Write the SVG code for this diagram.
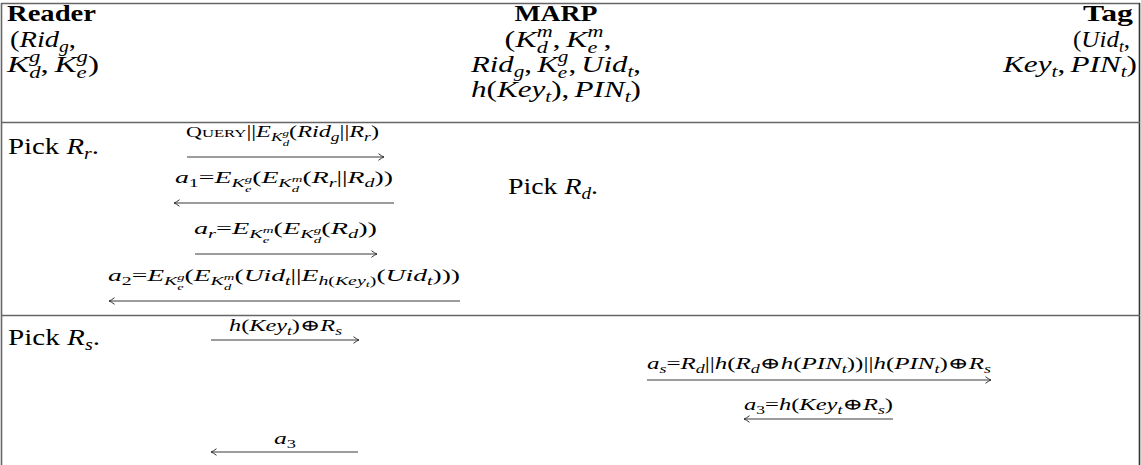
<svg xmlns="http://www.w3.org/2000/svg" width="1141" height="465" viewBox="0 0 1141 465">
<style>
text{font-family:"Liberation Serif","DejaVu Serif",serif;fill:#000}
.m{font-size:24px}
.b{font-weight:bold}
.i{font-style:italic}
.ms{font-size:16.5px}
.l{font-size:16px}
.s1{font-size:11.5px}
.s2{font-size:8.5px}
.rule{stroke:#666;stroke-width:1.6;fill:none}
.arr{stroke:#3a3a3a;stroke-width:1.1;fill:none;marker-end:url(#ah)}
</style>
<defs>
<marker id="ah" viewBox="-7 -5 8 10" refX="0" refY="0" markerWidth="8" markerHeight="10" markerUnits="userSpaceOnUse" orient="auto">
<path d="M-5.5,-3.3 Q-2,-0.6 0,0 Q-2,0.6 -5.5,3.3" fill="none" stroke="#333" stroke-width="1"/>
</marker>
</defs>
<rect width="1141" height="465" fill="#fff"/>
<g id="table">
<line class="rule" x1="1" y1="3.5" x2="1140" y2="3.5"/>
<line class="rule" x1="1.5" y1="3" x2="1.5" y2="465"/>
<line class="rule" x1="1139.5" y1="3" x2="1139.5" y2="465" style="stroke:#333"/>
<line class="rule" x1="1" y1="122.5" x2="1140" y2="122.5"/>
<line class="rule" x1="1" y1="315.5" x2="1140" y2="315.5"/>
</g>
<g id="reader">
<text class="m b" x="7" y="21" textLength="89" lengthAdjust="spacingAndGlyphs">Reader</text>
<text class="m" x="10" y="47" textLength="66" lengthAdjust="spacingAndGlyphs">(<tspan class="i">Rid</tspan><tspan class="i ms" dy="5">g</tspan><tspan dy="-5">,</tspan></text>
<text class="m" x="7" y="72" textLength="92" lengthAdjust="spacingAndGlyphs"><tspan class="i">K</tspan><tspan class="i ms" dy="-10">g</tspan><tspan class="i ms" dx="-8.2" dy="16">d</tspan><tspan dy="-6">,</tspan><tspan class="i" dx="4">K</tspan><tspan class="i ms" dy="-10">g</tspan><tspan class="i ms" dx="-8.2" dy="16">e</tspan><tspan dx="0.9" dy="-6">)</tspan></text>
</g>
<g id="marp">
<text class="m b" x="556" y="21" text-anchor="middle" textLength="83" lengthAdjust="spacingAndGlyphs">MARP</text>
<text class="m" x="558" y="47" text-anchor="middle" textLength="107" lengthAdjust="spacingAndGlyphs">(<tspan class="i">K</tspan><tspan class="i ms" dy="-10">m</tspan><tspan class="i ms" dx="-11.9" dy="16">d</tspan><tspan dx="3.6" dy="-6">,</tspan><tspan class="i" dx="4">K</tspan><tspan class="i ms" dy="-10">m</tspan><tspan class="i ms" dx="-11.9" dy="16">e</tspan><tspan dx="4.6" dy="-6">,</tspan></text>
<text class="m" x="556" y="72" text-anchor="middle" textLength="170" lengthAdjust="spacingAndGlyphs"><tspan class="i">Rid</tspan><tspan class="i ms" dy="5">g</tspan><tspan dy="-5">,</tspan><tspan class="i" dx="4">K</tspan><tspan class="i ms" dy="-10">g</tspan><tspan class="i ms" dx="-8.2" dy="16">e</tspan><tspan dx="1" dy="-6">,</tspan><tspan class="i" dx="4">Uid</tspan><tspan class="i ms" dy="5">t</tspan><tspan dy="-5">,</tspan></text>
<text class="m" x="556" y="97" text-anchor="middle" textLength="170" lengthAdjust="spacingAndGlyphs"><tspan class="i">h</tspan>(<tspan class="i">Key</tspan><tspan class="i ms" dy="5">t</tspan><tspan dy="-5">),</tspan><tspan class="i" dx="4">PIN</tspan><tspan class="i ms" dy="5">t</tspan><tspan dy="-5">)</tspan></text>
</g>
<g id="tag">
<text class="m b" x="1133" y="21" text-anchor="end" textLength="50" lengthAdjust="spacingAndGlyphs">Tag</text>
<text class="m" x="1130" y="47" text-anchor="end" textLength="57" lengthAdjust="spacingAndGlyphs">(<tspan class="i">Uid</tspan><tspan class="i ms" dy="5">t</tspan><tspan dy="-5">,</tspan></text>
<text class="m" x="1137" y="72" text-anchor="end" textLength="134" lengthAdjust="spacingAndGlyphs"><tspan class="i">Key</tspan><tspan class="i ms" dy="5">t</tspan><tspan dy="-5">,</tspan><tspan class="i" dx="4">PIN</tspan><tspan class="i ms" dy="5">t</tspan><tspan dy="-5">)</tspan></text>
</g>
<g id="steps">
<text class="m" x="8" y="154" textLength="91" lengthAdjust="spacingAndGlyphs">Pick <tspan class="i">R</tspan><tspan class="i ms" dy="5">r</tspan><tspan dy="-5">.</tspan></text>
<text class="m" x="508" y="194" textLength="90" lengthAdjust="spacingAndGlyphs">Pick <tspan class="i">R</tspan><tspan class="i ms" dy="5">d</tspan><tspan dy="-5">.</tspan></text>
<text class="m" x="8" y="345" textLength="92" lengthAdjust="spacingAndGlyphs">Pick <tspan class="i">R</tspan><tspan class="i ms" dy="5">s</tspan><tspan dy="-5">.</tspan></text>
</g>
<g id="labels">
<text class="l" x="186" y="137" textLength="193" lengthAdjust="spacingAndGlyphs"><tspan font-size="14.5">Q</tspan><tspan font-size="11">UERY</tspan>||<tspan class="i">E</tspan><tspan class="i s1" dy="3.5">K</tspan><tspan class="i s2" dy="-5">g</tspan><tspan class="i s2" dx="-4.2" dy="10">d</tspan><tspan dy="-8.5">(</tspan><tspan class="i">Rid</tspan><tspan class="i s1" dy="3.5">g</tspan><tspan dy="-3.5">||</tspan><tspan class="i">R</tspan><tspan class="i s1" dy="3.5">r</tspan><tspan dy="-3.5">)</tspan></text>
<text class="l" x="175" y="183" textLength="218" lengthAdjust="spacingAndGlyphs"><tspan class="i">a</tspan><tspan class="s1" dy="3.5">1</tspan><tspan dy="-3.5">=</tspan><tspan class="i">E</tspan><tspan class="i s1" dy="3.5">K</tspan><tspan class="i s2" dy="-5">g</tspan><tspan class="i s2" dx="-4.2" dy="10">e</tspan><tspan dx="0.4" dy="-8.5">(</tspan><tspan class="i">E</tspan><tspan class="i s1" dy="3.5">K</tspan><tspan class="i s2" dy="-5">m</tspan><tspan class="i s2" dx="-6.1" dy="10">d</tspan><tspan dx="1.9" dy="-8.5">(</tspan><tspan class="i">R</tspan><tspan class="i s1" dy="3.5">r</tspan><tspan dy="-3.5">||</tspan><tspan class="i">R</tspan><tspan class="i s1" dy="3.5">d</tspan><tspan dy="-3.5">))</tspan></text>
<text class="l" x="194" y="234" textLength="183" lengthAdjust="spacingAndGlyphs"><tspan class="i">a</tspan><tspan class="i s1" dy="3.5">r</tspan><tspan dy="-3.5">=</tspan><tspan class="i">E</tspan><tspan class="i s1" dy="3.5">K</tspan><tspan class="i s2" dy="-5">m</tspan><tspan class="i s2" dx="-6.1" dy="10">e</tspan><tspan dx="2.3" dy="-8.5">(</tspan><tspan class="i">E</tspan><tspan class="i s1" dy="3.5">K</tspan><tspan class="i s2" dy="-5">g</tspan><tspan class="i s2" dx="-4.2" dy="10">d</tspan><tspan dy="-8.5">(</tspan><tspan class="i">R</tspan><tspan class="i s1" dy="3.5">d</tspan><tspan dy="-3.5">))</tspan></text>
<text class="l" x="108" y="281" textLength="352" lengthAdjust="spacingAndGlyphs"><tspan class="i">a</tspan><tspan class="s1" dy="3.5">2</tspan><tspan dy="-3.5">=</tspan><tspan class="i">E</tspan><tspan class="i s1" dy="3.5">K</tspan><tspan class="i s2" dy="-5">g</tspan><tspan class="i s2" dx="-4.2" dy="10">e</tspan><tspan dx="0.4" dy="-8.5">(</tspan><tspan class="i">E</tspan><tspan class="i s1" dy="3.5">K</tspan><tspan class="i s2" dy="-5">m</tspan><tspan class="i s2" dx="-6.1" dy="10">d</tspan><tspan dx="1.9" dy="-8.5">(</tspan><tspan class="i">Uid</tspan><tspan class="i s1" dy="3.5">t</tspan><tspan dy="-3.5">||</tspan><tspan class="i">E</tspan><tspan class="i s1" dy="3.5">h</tspan><tspan class="s1">(</tspan><tspan class="i s1">Key</tspan><tspan class="i s2" dy="2.5">t</tspan><tspan class="s1" dy="-2.5">)</tspan><tspan dy="-3.5">(</tspan><tspan class="i">Uid</tspan><tspan class="i s1" dy="3.5">t</tspan><tspan dy="-3.5">)))</tspan></text>
<text class="l" x="229" y="331" textLength="113" lengthAdjust="spacingAndGlyphs"><tspan class="i">h</tspan>(<tspan class="i">Key</tspan><tspan class="i s1" dy="3.5">t</tspan><tspan dy="-3.5">)⊕</tspan><tspan class="i">R</tspan><tspan class="i s1" dy="3.5">s</tspan></text>
<text class="l" x="647" y="369" textLength="344" lengthAdjust="spacingAndGlyphs"><tspan class="i">a</tspan><tspan class="i s1" dy="3.5">s</tspan><tspan dy="-3.5">=</tspan><tspan class="i">R</tspan><tspan class="i s1" dy="3.5">d</tspan><tspan dy="-3.5">||</tspan><tspan class="i">h</tspan>(<tspan class="i">R</tspan><tspan class="i s1" dy="3.5">d</tspan><tspan dy="-3.5">⊕</tspan><tspan class="i">h</tspan>(<tspan class="i">PIN</tspan><tspan class="i s1" dy="3.5">t</tspan><tspan dy="-3.5">))||</tspan><tspan class="i">h</tspan>(<tspan class="i">PIN</tspan><tspan class="i s1" dy="3.5">t</tspan><tspan dy="-3.5">)⊕</tspan><tspan class="i">R</tspan><tspan class="i s1" dy="3.5">s</tspan></text>
<text class="l" x="744" y="410" textLength="149" lengthAdjust="spacingAndGlyphs"><tspan class="i">a</tspan><tspan class="s1" dy="3.5">3</tspan><tspan dy="-3.5">=</tspan><tspan class="i">h</tspan>(<tspan class="i">Key</tspan><tspan class="i s1" dy="3.5">t</tspan><tspan dy="-3.5">⊕</tspan><tspan class="i">R</tspan><tspan class="i s1" dy="3.5">s</tspan><tspan dy="-3.5">)</tspan></text>
<text class="l" x="274" y="444" textLength="22" lengthAdjust="spacingAndGlyphs"><tspan class="i">a</tspan><tspan class="s1" dy="3.5">3</tspan></text>
</g>
<g id="connectors">
<line class="arr" x1="187" y1="157" x2="384" y2="157"/>
<line class="arr" x1="394" y1="203" x2="174" y2="203"/>
<line class="arr" x1="195" y1="254" x2="377" y2="254"/>
<line class="arr" x1="460" y1="301" x2="109" y2="301"/>
<line class="arr" x1="211" y1="340" x2="359" y2="340"/>
<line class="arr" x1="647" y1="380" x2="991" y2="380"/>
<line class="arr" x1="893" y1="419" x2="744" y2="419"/>
<line class="arr" x1="358" y1="452" x2="211" y2="452"/>
</g>
</svg>
